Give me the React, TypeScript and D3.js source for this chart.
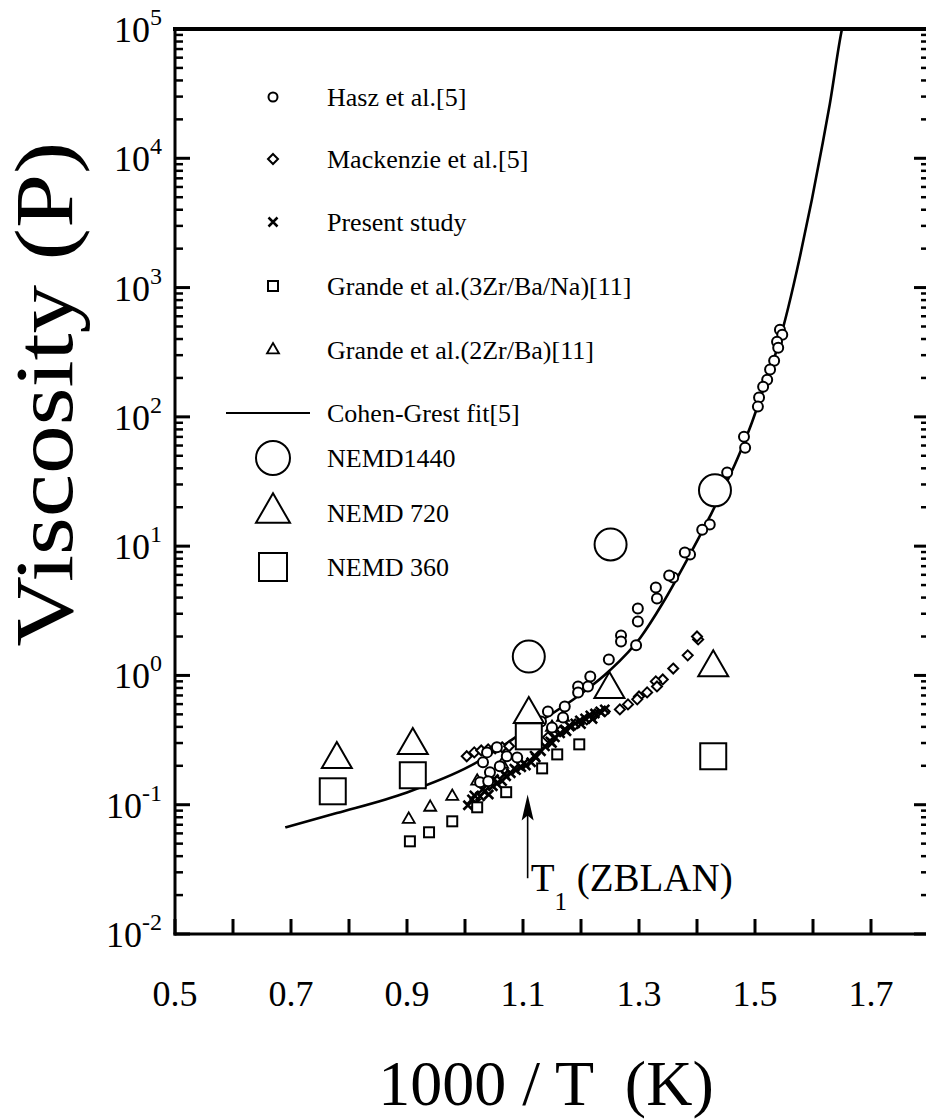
import React from 'react';
import * as d3 from 'd3';

const W = 926;
const H = 1119;

// Cohen-Grest fit [5]: 1000/T (1/K), viscosity (P)
const fitInvT = [0.69, 0.779, 0.9, 1.009, 1.11, 1.198, 1.25, 1.302, 1.341, 1.383, 1.422, 1.474, 1.495, 1.514, 1.543, 1.557, 1.578, 1.598, 1.616, 1.629, 1.65, 1.656];
const fitVisc = [0.0668, 0.0861, 0.1245, 0.1995, 0.389, 0.708, 1.096, 1.95, 3.63, 7.87, 16.9, 52.8, 91.2, 162, 398, 692, 1778, 4786, 12589, 26303, 100000, 130000];

// Hasz et al. [5]
const haszInvT = [1.543, 1.547, 1.538, 1.54, 1.533, 1.526, 1.521, 1.514, 1.507, 1.505, 1.481, 1.483, 1.452, 1.422, 1.409,
  1.388, 1.379, 1.359, 1.352, 1.329, 1.331, 1.298, 1.298, 1.295, 1.269, 1.269, 1.248, 1.216, 1.212, 1.195, 1.195, 1.172,
  1.143, 1.15, 1.169, 1.131, 1.038, 1.055, 1.072, 1.09, 1.031, 1.043, 1.06, 1.026, 1.04];
const haszVisc = [472, 432, 381, 343, 272, 232, 194, 171, 141, 120, 70.3, 57.8, 37.1, 14.7, 13.4,
  8.61, 8.93, 5.72, 5.93, 4.79, 3.94, 3.29, 2.61, 1.71, 2.04, 1.83, 1.33, 0.98, 0.822, 0.822, 0.739, 0.576,
  0.527, 0.396, 0.473, 0.441, 0.254, 0.278, 0.237, 0.232, 0.213, 0.178, 0.198, 0.149, 0.152];

// Mackenzie et al. [5]
const mackInvT = [1.402, 1.4, 1.384, 1.359, 1.341, 1.329, 1.331, 1.314, 1.3, 1.297, 1.281, 1.267, 1.241, 1.224, 1.21, 1.19, 1.164, 1.143,
  1.003, 1.016, 1.028, 1.04, 1.052, 1.064, 1.076];
const mackVisc = [1.9, 2.0, 1.43, 1.13, 0.931, 0.899, 0.822, 0.739, 0.688, 0.653, 0.597, 0.546, 0.527, 0.5, 0.457, 0.418, 0.369, 0.332,
  0.237, 0.254, 0.263, 0.268, 0.273, 0.278, 0.283];

// Present study
const presInvT = [1.005, 1.012, 1.019, 1.026, 1.034, 1.041, 1.048, 1.055, 1.064, 1.071, 1.079, 1.088, 1.097, 1.105, 1.114, 1.122,
  1.131, 1.138, 1.147, 1.155, 1.164, 1.172, 1.181, 1.19, 1.198, 1.207, 1.216, 1.224, 1.233, 1.241,
  1.016, 1.03, 1.05, 1.068, 1.085, 1.102, 1.12, 1.15, 1.175, 1.2, 1.22];
const presVisc = [0.099, 0.11, 0.103, 0.116, 0.127, 0.12, 0.139, 0.146, 0.152, 0.166, 0.175, 0.185, 0.195, 0.201, 0.213, 0.232,
  0.259, 0.283, 0.309, 0.332, 0.356, 0.383, 0.403, 0.426, 0.449, 0.465, 0.491, 0.508, 0.527, 0.546,
  0.118, 0.131, 0.158, 0.172, 0.19, 0.21, 0.24, 0.3, 0.37, 0.42, 0.46];

// Grande et al. (3Zr/Ba/Na) [11]
const g3InvT = [0.905, 0.938, 0.978, 1.021, 1.071, 1.133, 1.159, 1.197];
const g3Visc = [0.0521, 0.0612, 0.0744, 0.0955, 0.125, 0.191, 0.245, 0.293];

// Grande et al. (2Zr/Ba) [11]
const g2InvT = [0.903, 0.94, 0.978, 1.021, 1.064, 1.15, 1.169];
const g2Visc = [0.0771, 0.0955, 0.116, 0.152, 0.205, 0.396, 0.473];

// NEMD results
const n1440InvT = [1.11, 1.251, 1.431];
const n1440Visc = [1.4, 10.3, 27];
const n720InvT = [0.779, 0.91, 1.11, 1.249, 1.428];
const n720Visc = [0.224, 0.288, 0.5, 0.78, 1.15];
const n360InvT = [0.772, 0.91, 1.11, 1.428];
const n360Visc = [0.127, 0.169, 0.338, 0.237];

// axis ticks
const xTickValues = d3.range(5, 19).map((k) => k / 10);
const xTickLabels = ['0.5', '0.7', '0.9', '1.1', '1.3', '1.5', '1.7'];
const yDecades = [-2, -1, 0, 1, 2, 3, 4, 5];

// T1 (ZBLAN) marker
const t1InvT = 1.108;
const t1ArrowVisc = [0.027, 0.12];

const zip = (a: number[], b: number[]) => a.map((v, i) => [v, b[i]] as [number, number]);

const x = d3.scaleLinear().domain([0.5, 1.8]).range([175, 929]);
const y = d3.scaleLog().domain([1e-2, 1e5]).range([934, 29]);

const FONT = "'Liberation Serif', 'Times New Roman', 'DejaVu Serif', serif";

function triPath(cx: number, cy: number, w: number) {
  const h = (w * Math.sqrt(3)) / 2;
  return `M${cx},${cy - (2 * h) / 3}L${cx + w / 2},${cy + h / 3}L${cx - w / 2},${cy + h / 3}Z`;
}
function diamondPath(cx: number, cy: number, r: number) {
  return `M${cx},${cy - r}L${cx + r},${cy}L${cx},${cy + r}L${cx - r},${cy}Z`;
}
function crossPath(cx: number, cy: number, r: number) {
  return `M${cx - r},${cy - r}L${cx + r},${cy + r}M${cx - r},${cy + r}L${cx + r},${cy - r}`;
}

type Kind = 'circle' | 'diamond' | 'cross' | 'square' | 'triangle';

function Marker({ kind, cx, cy, s, sw }: { kind: Kind; cx: number; cy: number; s: number; sw: number }) {
  const common = { fill: '#fff', stroke: '#000', strokeWidth: sw };
  if (kind === 'circle') return <circle cx={cx} cy={cy} r={s} {...common} />;
  if (kind === 'square') return <rect x={cx - s} y={cy - s} width={2 * s} height={2 * s} {...common} />;
  if (kind === 'triangle') return <path d={triPath(cx, cy, 2 * s)} {...common} strokeLinejoin="miter" />;
  if (kind === 'diamond') return <path d={diamondPath(cx, cy, s)} {...common} />;
  return <path d={crossPath(cx, cy, s)} fill="none" stroke="#000" strokeWidth={sw} />;
}

function Series({ pts, kind, s, sw }: { pts: [number, number][]; kind: Kind; s: number; sw: number }) {
  return (
    <g>
      {pts.map((d, i) => (
        <Marker key={i} kind={kind} cx={x(d[0])} cy={y(d[1])} s={s} sw={sw} />
      ))}
    </g>
  );
}

// legend entries with their row centres
const legendRows: { label: string; kind: Kind | 'line'; s: number; sw: number; cy: number }[] = [
  { label: 'Hasz et al.[5]', kind: 'circle', s: 4.5, sw: 2, cy: 97 },
  { label: 'Mackenzie et al.[5]', kind: 'diamond', s: 5, sw: 2, cy: 159 },
  { label: 'Present study', kind: 'cross', s: 4.5, sw: 2.5, cy: 222 },
  { label: 'Grande et al.(3Zr/Ba/Na)[11]', kind: 'square', s: 5, sw: 2, cy: 286 },
  { label: 'Grande et al.(2Zr/Ba)[11]', kind: 'triangle', s: 6, sw: 1.8, cy: 350 },
  { label: 'Cohen-Grest fit[5]', kind: 'line', s: 0, sw: 2, cy: 413 },
  { label: 'NEMD1440', kind: 'circle', s: 17, sw: 2, cy: 458 },
  { label: 'NEMD 720', kind: 'triangle', s: 17, sw: 2, cy: 513 },
  { label: 'NEMD 360', kind: 'square', s: 14, sw: 2, cy: 567 },
];

export default function App() {
  const [x0, x1] = x.range();
  const [yb, yt] = y.range();
  const line = d3
    .line<[number, number]>()
    .x((d) => x(d[0]))
    .y((d) => y(d[1]))
    .curve(d3.curveMonotoneX);

  const minorY: number[] = [];
  yDecades.slice(0, -1).forEach((e) => {
    for (let k = 2; k <= 9; k++) minorY.push(k * Math.pow(10, e));
  });

  const legendX = 273;
  const legendTextX = 327;

  return (
    <svg
      width={W}
      height={H}
      viewBox={`0 0 ${W} ${H}`}
      style={{ position: 'absolute', left: 0, top: 0, background: '#fff', fontFamily: FONT }}
    >
      <defs>
        <clipPath id="plotArea">
          <rect x={x0} y={yt} width={x1 - x0} height={yb - yt} />
        </clipPath>
      </defs>
      <rect x={0} y={0} width={W} height={H} fill="#fff" />

      {/* fit curve */}
      <path d={line(zip(fitInvT, fitVisc)) || ''} fill="none" stroke="#000" strokeWidth={2.6} clipPath="url(#plotArea)" />

      {/* data */}
      <Series pts={zip(mackInvT, mackVisc)} kind="diamond" s={5} sw={2} />
      <Series pts={zip(presInvT, presVisc)} kind="cross" s={4.5} sw={2.6} />
      <Series pts={zip(g2InvT, g2Visc)} kind="triangle" s={6} sw={1.8} />
      <Series pts={zip(g3InvT, g3Visc)} kind="square" s={5} sw={2} />
      <Series pts={zip(haszInvT, haszVisc)} kind="circle" s={5} sw={2} />
      <Series pts={zip(n360InvT, n360Visc)} kind="square" s={13} sw={2} />
      <Series pts={zip(n720InvT, n720Visc)} kind="triangle" s={15} sw={2} />
      <Series pts={zip(n1440InvT, n1440Visc)} kind="circle" s={16} sw={2} />

      {/* T1 arrow */}
      <g>
        <line x1={x(t1InvT)} x2={x(t1InvT)} y1={y(t1ArrowVisc[0])} y2={y(t1ArrowVisc[1]) + 20} stroke="#000" strokeWidth={1.6} />
        <path
          d={`M${x(t1InvT)},${y(t1ArrowVisc[1])}L${x(t1InvT) + 6},${y(t1ArrowVisc[1]) + 26}L${x(t1InvT)},${y(t1ArrowVisc[1]) + 21}L${x(t1InvT) - 6},${y(t1ArrowVisc[1]) + 26}Z`}
          fill="#000"
        />
        <text x={x(t1InvT) + 3} y={y(t1ArrowVisc[0]) + 13} fontSize={39}>
          T
          <tspan dy={19} fontSize={25}>1</tspan>
          <tspan dy={-19} fontSize={39}> (ZBLAN)</tspan>
        </text>
      </g>

      {/* frame */}
      <g stroke="#000" fill="none" strokeLinecap="square">
        <line x1={x0} x2={x1} y1={yt} y2={yt} strokeWidth={4} />
        <line x1={x0} x2={x1} y1={yb} y2={yb} strokeWidth={3} />
        <line x1={x0} x2={x0} y1={yt} y2={yb} strokeWidth={3} />
        <line x1={x1} x2={x1} y1={yt} y2={yb} strokeWidth={3} />
      </g>

      {/* x ticks */}
      <g stroke="#000" strokeWidth={3}>
        {xTickValues.map((v) => (
          <line key={v} x1={x(v)} x2={x(v)} y1={yb} y2={yb - 15} />
        ))}
      </g>
      <g fontSize={36} textAnchor="middle">
        {xTickLabels.map((t) => (
          <text key={t} x={x(+t)} y={1006}>
            {t}
          </text>
        ))}
      </g>

      {/* y ticks, both sides */}
      <g stroke="#000" strokeWidth={3}>
        {yDecades.map((e) => (
          <g key={e}>
            <line x1={x0} x2={x0 + 15} y1={y(Math.pow(10, e))} y2={y(Math.pow(10, e))} />
            <line x1={x1} x2={x1 - 15} y1={y(Math.pow(10, e))} y2={y(Math.pow(10, e))} />
          </g>
        ))}
        {minorY.map((v, i) => (
          <g key={i}>
            <line x1={x0} x2={x0 + 8} y1={y(v)} y2={y(v)} strokeWidth={2.5} />
            <line x1={x1} x2={x1 - 8} y1={y(v)} y2={y(v)} strokeWidth={2.5} />
          </g>
        ))}
      </g>
      <g fontSize={36} textAnchor="end">
        {yDecades.map((e) => (
          <text key={e} x={162} y={y(Math.pow(10, e)) + 13}>
            10
            <tspan dy={-17} fontSize={24}>
              {e}
            </tspan>
          </text>
        ))}
      </g>

      {/* axis titles */}
      <text x={546} y={1105} fontSize={64} textAnchor="middle" style={{ whiteSpace: 'pre' }}>
        {'1000 / T  (K)'}
      </text>
      <text
        transform={`translate(72,394) rotate(-90)`}
        fontSize={82}
        textAnchor="middle"
        textLength={505}
        lengthAdjust="spacingAndGlyphs"
      >
        Viscosity (P)
      </text>

      {/* legend */}
      <g>
        {legendRows.map((r) => (
          <g key={r.label}>
            {r.kind === 'line' ? (
              <line x1={226} x2={310} y1={r.cy} y2={r.cy} stroke="#000" strokeWidth={r.sw} />
            ) : (
              <Marker kind={r.kind} cx={legendX} cy={r.cy} s={r.s} sw={r.sw} />
            )}
            <text x={legendTextX} y={r.cy + 9} fontSize={26}>
              {r.label}
            </text>
          </g>
        ))}
      </g>
    </svg>
  );
}
